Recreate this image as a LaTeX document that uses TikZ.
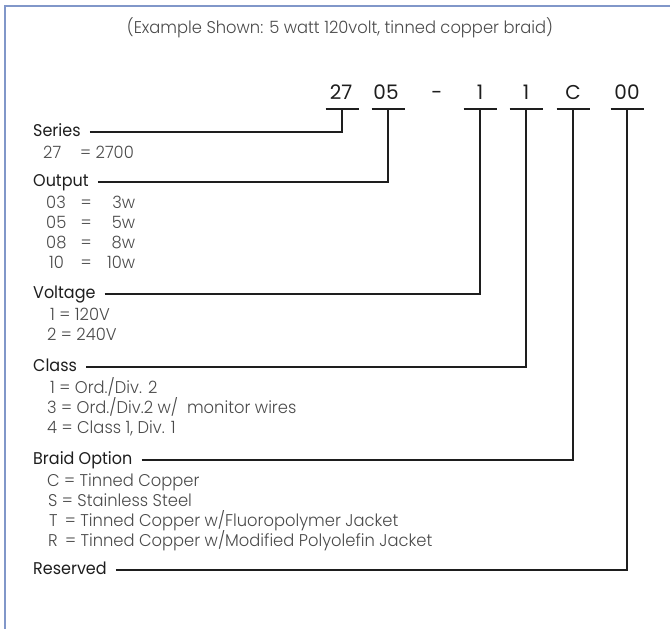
\documentclass[tikz,border=0pt]{standalone}
\usepackage{fontspec}
\setmainfont{Poppins}
\newfontfamily\lightf{Poppins Light}[FakeStretch=0.96]
\newfontfamily\labelf{Poppins}[FakeStretch=0.94]
\definecolor{frame}{HTML}{8197C9}
\definecolor{ink}{HTML}{1E1E1E}
\definecolor{val}{HTML}{4A4A4A}
\begin{document}
\begin{tikzpicture}[x=1pt,y=-1pt,
  lbl/.style={anchor=base west, inner sep=0pt, font=\labelf\fontsize{17}{17}\selectfont, text=ink},
  vrow/.style={anchor=base west, inner sep=0pt, font=\lightf\fontsize{17}{17}\selectfont, text=val},
  title/.style={anchor=base, inner sep=0pt, font=\lightf\fontsize{17}{17}\selectfont, text=val},
  code/.style={anchor=base, inner sep=0pt, font=\fontsize{20}{20}\selectfont, text=ink},
  conn/.style={line width=2.8pt, draw=ink, line join=miter},
  bar/.style={line width=2.8pt, draw=ink}]
\useasboundingbox (0,0) rectangle (670,629);
% frame
\draw[frame, line width=2pt] (5,629) -- (5,6) -- (670,6);
% title
\node[title] (title) at (340,33) {(Example Shown: 5 watt 120volt, tinned copper braid)};
% code
\node[code] (c27) at (341,99) {27};
\node[code] (c05) at (386,99) {05};
\node[code] (cdash) at (437,99) {-};
\node[code] (c1a) at (480,99) {1};
\node[code] (c1b) at (526,99) {1};
\node[code] (cC) at (573,99) {C};
\node[code] (c00) at (627,99) {00};
\coordinate (b27) at (342,109);
\coordinate (b05) at (388,109);
\coordinate (b1a) at (480,109);
\coordinate (b1b) at (526,109);
\coordinate (bC) at (573,109);
\coordinate (b00) at (627,109);
\foreach \b in {b27,b05,b1a,b1b,bC,b00}
  \draw[bar] ([xshift=-16.5pt]\b) -- ([xshift=16.5pt]\b);
% labels
\node[lbl] (lser) at (33,136) {Series};
\node[lbl] (lout) at (33,186) {Output};
\node[lbl] (lvol) at (33,298) {Voltage};
\node[lbl] (lcls) at (33,371) {Class};
\node[lbl] (lbrd) at (33,464) {Braid Option};
\node[lbl] (lres) at (33,574) {Reserved};
% connectors
\draw[conn] ([shift={(9,-4)}]lser.base east) -| (b27);
\draw[conn] ([shift={(9,-4)}]lout.base east) -| (b05);
\draw[conn] ([shift={(9,-4)}]lvol.base east) -| (b1a);
\draw[conn] ([shift={(9,-4)}]lcls.base east) -| (b1b);
\draw[conn] ([shift={(9,-4)}]lbrd.base east) -| (bC);
\draw[conn] ([shift={(9,-4)}]lres.base east) -| (b00);
% values
\node[vrow] (s1) at (43,158) {\makebox[37pt][l]{27}= 2700};
\node[vrow] (o1) at (46,208) {\makebox[22pt][l]{03}\makebox[36pt][c]{=}\makebox[31pt][r]{3w}};
\node[vrow] (o2) at (46,228) {\makebox[22pt][l]{05}\makebox[36pt][c]{=}\makebox[31pt][r]{5w}};
\node[vrow] (o3) at (46,248) {\makebox[22pt][l]{08}\makebox[36pt][c]{=}\makebox[31pt][r]{8w}};
\node[vrow] (o4) at (49,268) {\makebox[19pt][l]{10}\makebox[36pt][c]{=}\makebox[31pt][r]{10w}};
\node[vrow] (v1) at (50,320) {1 = 120V};
\node[vrow] (v2) at (47,340) {2 = 240V};
\node[vrow] (k1) at (50,393) {1 = Ord./Div. 2};
\node[vrow] (k2) at (47,413) {3 = Ord./Div.2 w/ \ monitor wires};
\node[vrow] (k3) at (47,433) {4 = Class 1, Div. 1};
\node[vrow] (r1) at (47,486) {C = Tinned Copper};
\node[vrow] (r2) at (48,506) {S = Stainless Steel};
\node[vrow] (r3) at (49,526) {T \,= Tinned Copper w/Fluoropolymer Jacket};
\node[vrow] (r4) at (48,546) {R \,= Tinned Copper w/Modified Polyolefin Jacket};
\end{tikzpicture}
\end{document}
